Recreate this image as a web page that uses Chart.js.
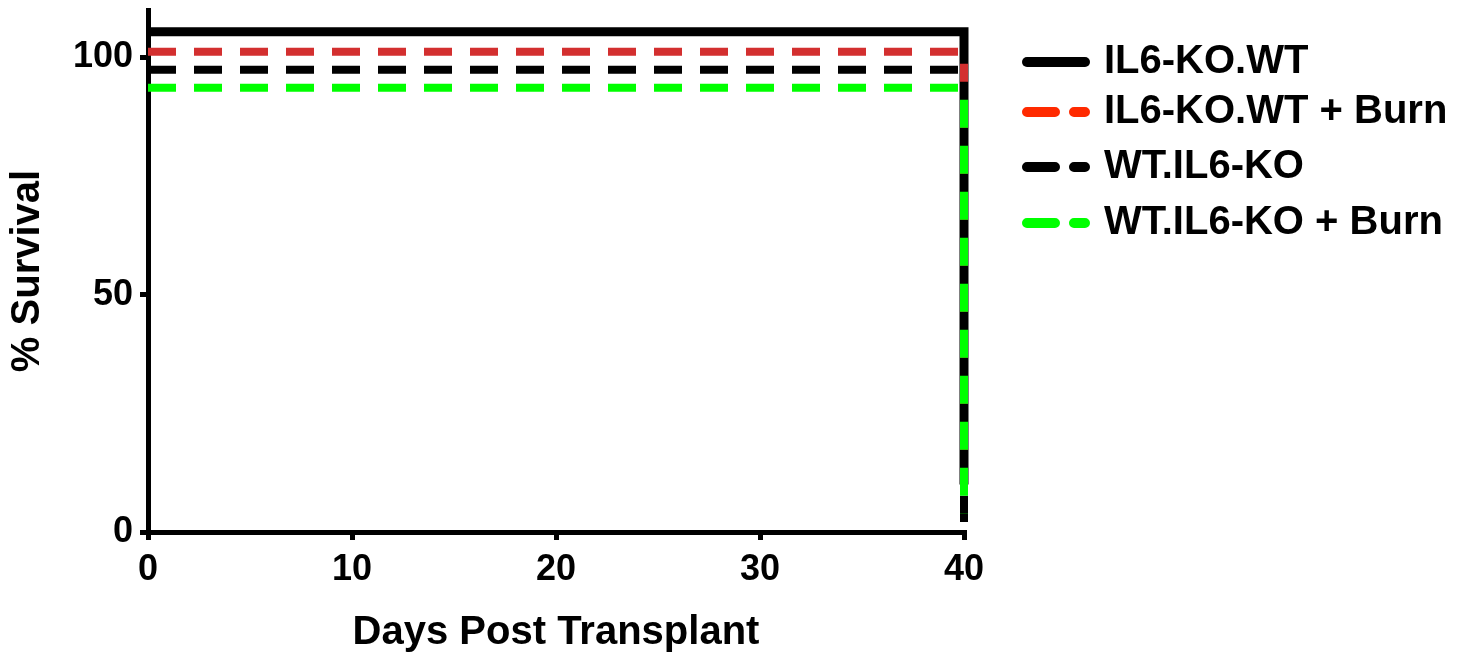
<!DOCTYPE html>
<html><head><meta charset="utf-8">
<script src="https://cdn.jsdelivr.net/npm/chart.js@4"></script>
<style>html,body{margin:0;padding:0;background:#fff}#wrap{width:1468px;height:659px}</style>
</head><body><div id="wrap"><canvas id="c" width="1468" height="659"></canvas></div>
<script>
// ---- data ----
const seriesNames = ["IL6-KO.WT", "IL6-KO.WT + Burn", "WT.IL6-KO", "WT.IL6-KO + Burn"];
const days = [0, 40, 40];
const survIL6KOWT = [105.4, 105.4, 10];
const survIL6KOWTBurn = [101.2, 101.2, 8];
const survWTIL6KO = [97.4, 97.4, 2.1];
const survWTIL6KOBurn = [93.6, 93.6, 3.8];
const xTicks = [0, 10, 20, 30, 40];
const yTicks = [0, 50, 100];

const lineColors = ["#000000", "#D32F2F", "#000000", "#00FF00"];
const legendColors = ["#000000", "#FF2A00", "#000000", "#00FF00"];
const dashed = [false, true, true, true];
const allValues = [survIL6KOWT, survIL6KOWTBurn, survWTIL6KO, survWTIL6KOBurn];
const drawOrder = [3, 2, 1, 0];

const FONT = "'Liberation Sans', Arial, Helvetica, sans-serif";

const datasets = seriesNames.map((name, i) => ({
  label: name,
  data: days.map((d, k) => ({ x: d, y: allValues[i][k] })),
  borderColor: lineColors[i],
  backgroundColor: lineColors[i],
  borderWidth: dashed[i] ? 8 : 9,
  borderDash: dashed[i] ? [28, 18] : [],
  borderCapStyle: 'butt',
  borderJoinStyle: 'miter',
  showLine: true,
  fill: false,
  clip: false,
  pointRadius: 0,
  pointHoverRadius: 0,
  tension: 0,
  order: drawOrder[i]
}));

const legendPlugin = {
  id: 'customLegend',
  afterDraw(chart) {
    const ctx = chart.ctx;
    const x0 = 1027, x1 = 1085, textX = 1104;
    const ys = [62, 112, 167, 223];
    ctx.save();
    chart.data.datasets.forEach((ds, i) => {
      const y = ys[i];
      ctx.beginPath();
      ctx.lineWidth = 10;
      ctx.lineCap = 'round';
      ctx.strokeStyle = legendColors[i];
      ctx.setLineDash(dashed[i] ? [28, 19] : []);
      ctx.moveTo(x0, y);
      ctx.lineTo(x1, y);
      ctx.stroke();
      ctx.setLineDash([]);
      ctx.fillStyle = '#000';
      ctx.font = "bold 40px " + FONT;
      ctx.textBaseline = 'alphabetic';
      ctx.textAlign = 'left';
      ctx.fillText(ds.label, textX, y + 11);
    });
    ctx.restore();
  }
};

const noPad = s => { s.paddingTop = 0; s.paddingBottom = 0; s.paddingLeft = 0; s.paddingRight = 0; };

new Chart(document.getElementById('c'), {
  type: 'scatter',
  data: { datasets },
  options: {
    responsive: false,
    devicePixelRatio: 1,
    animation: false,
    layout: { padding: { left: 0, right: 504, top: 10, bottom: 0 } },
    plugins: { legend: { display: false }, tooltip: { enabled: false } },
    scales: {
      x: {
        type: 'linear', min: 0, max: 40,
        afterBuildTicks: s => { s.ticks = xTicks.map(v => ({ value: v })); },
        afterFit: s => { noPad(s); s.height = 127; },
        ticks: { color: '#000', font: { family: FONT, size: 36, weight: 'bold' }, padding: 8 },
        grid: { drawOnChartArea: false, drawTicks: true, tickLength: 8, lineWidth: 5, color: '#000' },
        border: { display: true, width: 5, color: '#000' },
        title: { display: true, text: 'Days Post Transplant', color: '#000',
                 font: { family: FONT, size: 40, weight: 'bold' }, padding: { top: 1, bottom: 2 } }
      },
      y: {
        type: 'linear', min: 0, max: 110,
        afterBuildTicks: s => { s.ticks = yTicks.map(v => ({ value: v })); },
        afterFit: s => { noPad(s); s.width = 148; },
        ticks: { color: '#000', font: { family: FONT, size: 36, weight: 'bold' }, padding: 7 },
        grid: { drawOnChartArea: false, drawTicks: true, tickLength: 8, lineWidth: 5, color: '#000' },
        border: { display: true, width: 5, color: '#000' },
        title: { display: true, text: '% Survival', color: '#000',
                 font: { family: FONT, size: 40, weight: 'bold' }, padding: { top: 4, bottom: 15 } }
      }
    }
  },
  plugins: [legendPlugin]
});
</script>
</body></html>
